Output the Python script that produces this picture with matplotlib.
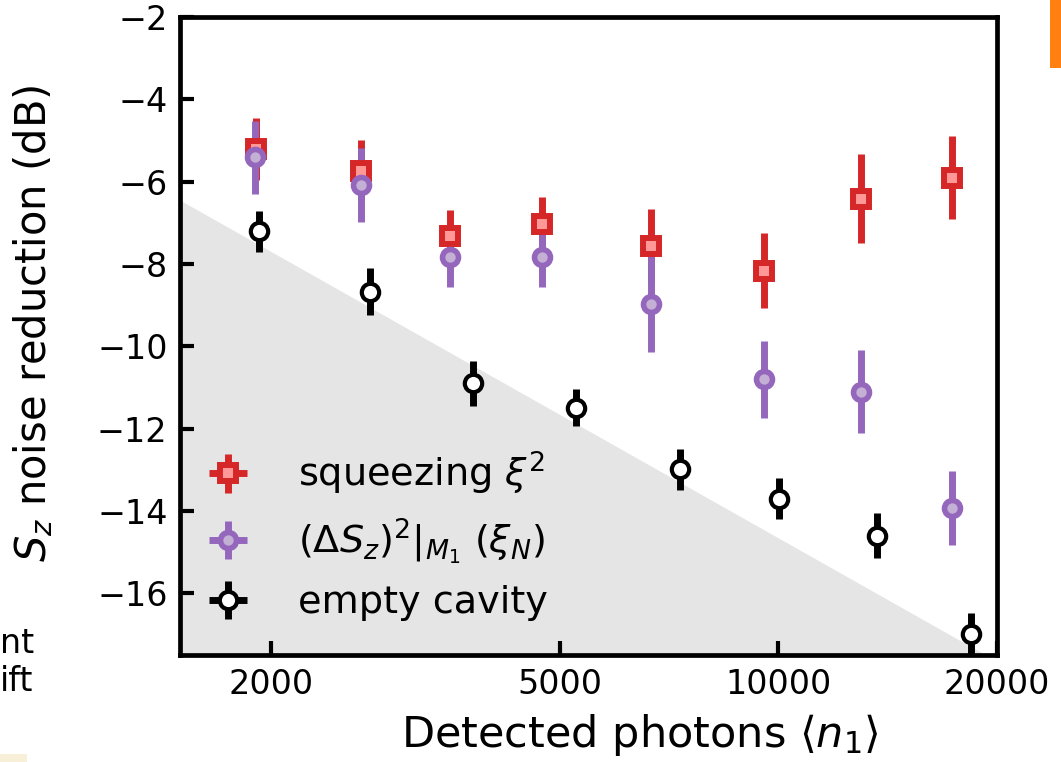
import matplotlib
matplotlib.use("Agg")
import matplotlib.pyplot as plt
from matplotlib.ticker import FixedLocator, NullLocator, FixedFormatter
from matplotlib.patches import Rectangle

# squeezing xi^2
sq_x = [1910, 2660, 3530, 4730, 6680, 9560, 13000, 17340]
sq_y = [-5.2, -5.73, -7.31, -7.02, -7.57, -8.16, -6.41, -5.9]
sq_err = [0.75, 0.73, 0.63, 0.64, 0.9, 0.92, 1.08, 1.0]

# (dS_z)^2 | M1  (xi_N)
xn_x = [1900, 2660, 3530, 4730, 6680, 9560, 13000, 17340]
xn_y = [-5.41, -6.09, -7.82, -7.82, -8.98, -10.8, -11.1, -13.92]
xn_err = [0.88, 0.9, 0.75, 0.75, 1.17, 0.93, 1.0, 0.9]

# empty cavity
ec_x = [1925, 2736, 3793, 5270, 7330, 10020, 13680, 18420]
ec_y = [-7.21, -8.67, -10.9, -11.49, -12.99, -13.7, -14.6, -16.98]
ec_err = [0.5, 0.56, 0.55, 0.45, 0.49, 0.5, 0.55, 0.5]

# gray shaded region corners
shade_x = [1500, 19300]
shade_y = [-6.45, -17.5]

xticks = [2000, 5000, 10000, 20000]
xticklabels = ['2000', '5000', '10000', '20000']
yticks = [-16, -14, -12, -10, -8, -6, -4, -2]

plt.rcParams['font.family'] = ['DejaVu Sans']
plt.rcParams['mathtext.fontset'] = 'dejavusans'

fig = plt.figure(figsize=(10.61, 7.62), dpi=100)
ax = fig.add_axes([0.1697, 0.1404, 0.77, 0.8373])

ax.fill_between(shade_x, shade_y, [-17.5, -17.5], color='#e5e5e5', lw=0, zorder=0)

ax.errorbar(sq_x, sq_y, yerr=sq_err, xerr=[0]*len(sq_x), fmt='s', color='#d62728',
            mfc='#ff9896', mec='#d62728', ms=11.5, mew=4.3, elinewidth=5,
            capsize=0, label=r'squeezing $\xi^2$')
ax.errorbar(xn_x, xn_y, yerr=xn_err, xerr=[0]*len(xn_x), fmt='o', color='#9467bd',
            mfc='#c5b0d5', mec='#9467bd', ms=11.5, mew=4.0, elinewidth=5,
            capsize=0, label=r'$(\Delta S_z)^2|_{M_1}$ $(\xi_N)$')
ax.errorbar(ec_x, ec_y, yerr=ec_err, xerr=[0]*len(ec_x), fmt='o', color='black',
            mfc='white', mec='black', ms=12.5, mew=3.0, elinewidth=5,
            capsize=0, label='empty cavity')

ax.set_xscale('log')
ax.set_xlim(1500, 20000)
ax.set_ylim(-17.5, -2)
ax.xaxis.set_major_locator(FixedLocator(xticks))
ax.xaxis.set_major_formatter(FixedFormatter(xticklabels))
ax.xaxis.set_minor_locator(NullLocator())
ax.set_yticks(yticks)

for s in ax.spines.values():
    s.set_linewidth(3.4)
ax.tick_params(direction='in', length=10, width=3, labelsize=24, pad=9)

ax.set_xlabel(r'Detected photons $\langle n_1 \rangle$', fontsize=31)
ax.xaxis.set_label_coords(0.563, -0.09)
ax.set_ylabel(r'$S_z$ noise reduction (dB)', fontsize=30)
ax.yaxis.set_label_coords(-0.153, 0.52)

ax.legend(loc='lower left', frameon=False, fontsize=27.5, handlelength=1.12,
          handletextpad=1.28, labelspacing=0.5, borderaxespad=0.3,
          bbox_to_anchor=(0.0, 0.011))

# fragments of neighbouring content in the screenshot
fig.text(0.0, 0.155, 'nt', fontsize=24, ha='left', va='center')
fig.text(0.0, 0.105, 'ift', fontsize=24, ha='left', va='center')
fig.patches.append(Rectangle((1050/1061, 1-68/762), 11/1061, 68/762,
                             transform=fig.transFigure, color='#ff8010', lw=0))
fig.patches.append(Rectangle((0, 0), 27/1061, 8/762,
                             transform=fig.transFigure, color='#f8efd8', lw=0))

fig.savefig('out.png', dpi=100)
